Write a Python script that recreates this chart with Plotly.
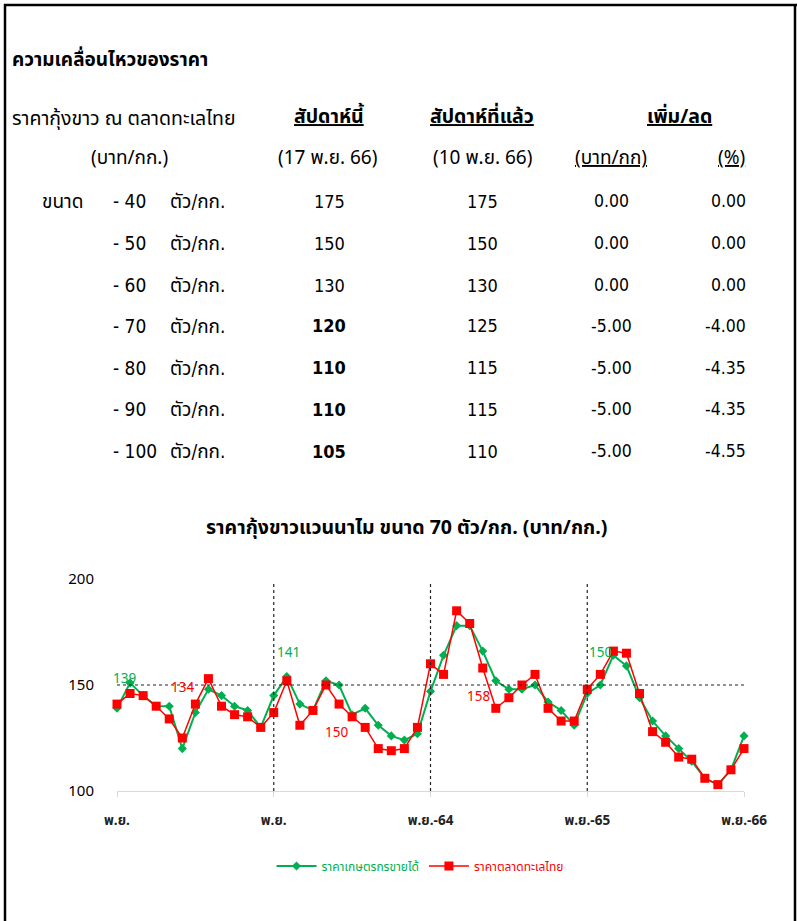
import plotly.graph_objects as go

W, H = 797, 921

# ---------------- data ----------------
sizes = ["- 40", "- 50", "- 60", "- 70", "- 80", "- 90", "- 100"]
this_week = [175, 150, 130, 120, 110, 110, 105]
last_week = [175, 150, 130, 125, 115, 115, 110]
change_baht = ["0.00", "0.00", "0.00", "-5.00", "-5.00", "-5.00", "-5.00"]
change_pct = ["0.00", "0.00", "0.00", "-4.00", "-4.35", "-4.35", "-4.55"]
bold_this_week = [False, False, False, True, True, True, True]

tick_idx = [0, 12, 24, 36, 48]
tick_labels = ["พ.ย.", "พ.ย.", "พ.ย.-64", "พ.ย.-65", "พ.ย.-66"]

farm_price = [139, 151, 145, 140, 140, 120, 137, 148, 145, 140, 138, 130,
              145, 154, 141, 138, 152, 150, 136, 139, 131, 126, 124, 127,
              147, 164, 178, 178, 166, 152, 148, 148, 150, 142, 138, 131,
              146, 150, 164, 159, 144, 133, 126, 120, 114, 106, 103, 110, 126]
market_price = [141, 146, 145, 140, 134, 125, 141, 153, 140, 136, 135, 130,
                137, 152, 131, 138, 150, 141, 135, 130, 120, 119, 120, 130,
                160, 155, 185, 179, 158, 139, 144, 150, 155, 139, 133, 133,
                148, 155, 166, 165, 146, 128, 123, 116, 115, 106, 103, 110, 120]
months = list(range(len(farm_price)))

# data labels shown on chart: (x, y, text)
farm_labels = [(0.6, 152.8, "139"), (13.15, 165.2, "141"), (37.0, 165.0, "150"), (49.7, 132.7, "126")]
market_labels = [(5.05, 148.6, "134"), (16.8, 127.4, "150"), (27.7, 144.3, "158"), (49.75, 123.1, "120")]

GREEN = "#00b050"
RED = "#ff0000"
FONT = "Tahoma, 'Noto Sans Thai', 'Noto Sans', sans-serif"
NARROW = "'DejaVu Sans Condensed', 'Liberation Sans Narrow', 'Noto Sans Thai', sans-serif"

def px(x):
    return x / W

def py(y):
    return 1 - y / H

fig = go.Figure()
fig.add_trace(go.Scatter(
    x=months, y=farm_price, mode="lines+markers",
    name=f"<span style='color:{GREEN}'>ราคาเกษตรกรขายได้</span>",
    line=dict(color=GREEN, width=2),
    marker=dict(symbol="diamond", size=7, color=GREEN),
    cliponaxis=False,
))
fig.add_trace(go.Scatter(
    x=months, y=market_price, mode="lines+markers",
    name=f"<span style='color:{RED}'>ราคาตลาดทะเลไทย</span>",
    line=dict(color=RED, width=1.5),
    marker=dict(symbol="square", size=9, color=RED),
    cliponaxis=False,
))

ann = []
for x, y, t in farm_labels:
    ann.append(dict(x=x, y=y, xref="x", yref="y", text=t, showarrow=False,
                    font=dict(color=GREEN, size=13.5, family=FONT)))
for x, y, t in market_labels:
    ann.append(dict(x=x, y=y, xref="x", yref="y", text=t, showarrow=False,
                    font=dict(color=RED, size=13.5, family=FONT)))

def text(x, y, t, size=19, anchor="center", bold=False, color="#000", family=FONT):
    if bold:
        t = f"<b>{t}</b>"
    ann.append(dict(x=px(x), y=py(y), xref="paper", yref="paper", text=t,
                    showarrow=False, xanchor=anchor, yanchor="middle",
                    font=dict(size=size, family=family, color=color)))

text(10, 60, "ความเคลื่อนไหวของราคา", size=19, anchor="left", bold=True)
text(10, 119, "ราคากุ้งขาว ณ ตลาดทะเลไทย", anchor="left", size=19.5)
text(329, 117, "<u>สัปดาห์นี้</u>", bold=True, size=19.5)
text(482, 117, "<u>สัปดาห์ที่แล้ว</u>", bold=True, size=19.5)
text(679, 117, "<u>เพิ่ม/ลด</u>", bold=True, size=19.5)
text(129, 159, "(บาท/กก.)")
text(327, 159, "(17 พ.ย. 66)")
text(482, 159, "(10 พ.ย. 66)")
text(611, 159, "<u>(บาท/กก)</u>")
text(731, 159, "<u>(%)</u>")

row_y = [201, 243, 285, 326, 368, 409, 451]
text(40, row_y[0], "ขนาด", anchor="left", family=NARROW)
for i, yy in enumerate(row_y):
    text(111, yy, sizes[i], anchor="left", size=19, family=NARROW)
    text(168, yy, "ตัว/กก.", anchor="left", family=NARROW)
    text(329, yy, str(this_week[i]), bold=bold_this_week[i], size=18, family=NARROW)
    text(482, yy, str(last_week[i]), size=18, family=NARROW)
    text(611, yy, change_baht[i], size=17.5, family=NARROW)
    text(748, yy, change_pct[i], anchor="right", size=17.5, family=NARROW)

text(407, 528, "ราคากุ้งขาวแวนนาไม ขนาด 70 ตัว/กก. (บาท/กก.)", size=19.5, bold=True)

shapes = []
for xv in [12, 24, 36]:
    shapes.append(dict(type="line", xref="x", yref="y", x0=xv, x1=xv, y0=100, y1=198.5,
                       line=dict(color="#222", width=1.2, dash="dot")))
shapes.append(dict(type="line", xref="x", yref="y", x0=0, x1=48, y0=150, y1=150,
                   line=dict(color="#222", width=1.2, dash="dot")))
# page border
shapes.append(dict(type="line", xref="paper", yref="paper", x0=px(4), x1=px(797), y0=py(5), y1=py(5),
                   line=dict(color="#000", width=2.5)))
shapes.append(dict(type="line", xref="paper", yref="paper", x0=px(5), x1=px(5), y0=py(4), y1=py(921),
                   line=dict(color="#000", width=2.5)))
shapes.append(dict(type="line", xref="paper", yref="paper", x0=px(795), x1=px(795), y0=py(4), y1=py(921),
                   line=dict(color="#000", width=2.5)))

fig.update_layout(
    width=W, height=H,
    margin=dict(l=0, r=0, t=0, b=0, autoexpand=False),
    paper_bgcolor="white", plot_bgcolor="white",
    font=dict(family=FONT, color="#000"),
    showlegend=True,
    legend=dict(orientation="h", x=px(420), y=py(866), xanchor="center", yanchor="middle",
                font=dict(size=12, family=FONT), itemwidth=40, bgcolor="rgba(0,0,0,0)"),
    xaxis=dict(domain=[px(117), px(744)], range=[0, 48], tickvals=tick_idx,
               ticktext=[f"<b>{t}</b>" for t in tick_labels], automargin=False,
               showgrid=False, zeroline=False, showline=True, linecolor="#d9d9d9", linewidth=1,
               ticks="outside", ticklen=5, tickcolor="#d9d9d9",
               tickfont=dict(size=13.5, family=FONT, color="#222"), ticklabelstandoff=12),
    yaxis=dict(domain=[py(791), py(579)], range=[100, 200], tickvals=[100, 150, 200],
               showgrid=False, zeroline=False, showline=False, ticks="", automargin=False,
               tickfont=dict(size=15, family=FONT, color="#000"), ticklabelstandoff=22),
    annotations=ann,
    shapes=shapes,
)

fig.write_html("out.html", config={"displayModeBar": False},
               post_script="document.body.style.margin='0px';")
